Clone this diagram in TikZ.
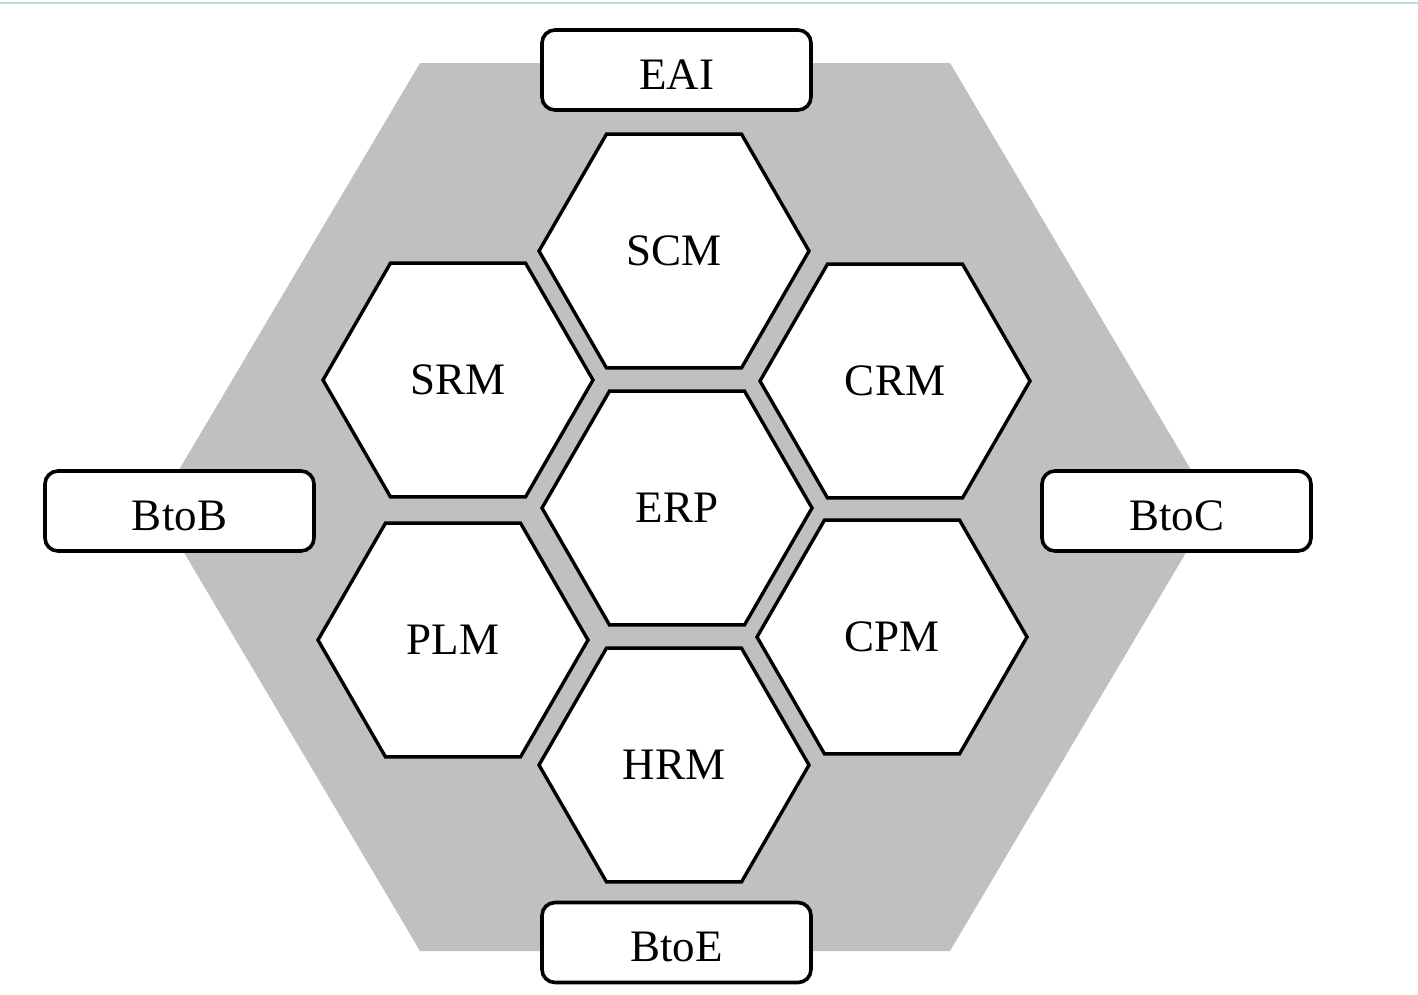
\documentclass[tikz,border=0pt]{standalone}
\usepackage{fontspec}
\setmainfont{Liberation Serif}
\usetikzlibrary{shapes.geometric}
\definecolor{bggray}{RGB}{192,192,192}
\definecolor{topline}{RGB}{185,222,226}
\begin{document}
\begin{tikzpicture}[x=1pt,y=-1pt,
  hexnode/.style={regular polygon, regular polygon sides=6, minimum size=270pt,
    inner sep=0pt, outer sep=0pt, draw=black, fill=white, line width=3.4pt,
    line join=miter, font=\fontsize{45}{54}\selectfont},
  boxnode/.style={rectangle, draw=black, fill=white, line width=3.6pt,
    rounded corners=13pt, minimum width=269pt, minimum height=80pt,
    inner sep=0pt, text height=38.5pt, text depth=0pt,
    font=\fontsize{45}{54}\selectfont}]
\useasboundingbox (0,0) rectangle (1418,994);
\fill[topline] (0,1.5) rectangle (1418,3.5);
\fill[bggray] (420,63) -- (950,63) -- (1213,507) -- (950,951) -- (420,951) -- (157,507) -- cycle;
% hexagons
\node[hexnode] (scm) at (674,251) {SCM};
\node[hexnode] (srm) at (458,380) {SRM};
\node[hexnode] (crm) at (895,381) {CRM};
\node[hexnode] (erp) at (677,508) {ERP};
\node[hexnode] (plm) at (453,640) {PLM};
\node[hexnode] (cpm) at (892,637) {CPM};
\node[hexnode] (hrm) at (674,765) {HRM};
% boxes
\node[boxnode] (eai) at (676.5,70) {EAI};
\node[boxnode] (btob) at (179.5,511) {BtoB};
\node[boxnode] (btoc) at (1176.5,511) {BtoC};
\node[boxnode] (btoe) at (676.5,942.5) {BtoE};
\end{tikzpicture}
\end{document}
